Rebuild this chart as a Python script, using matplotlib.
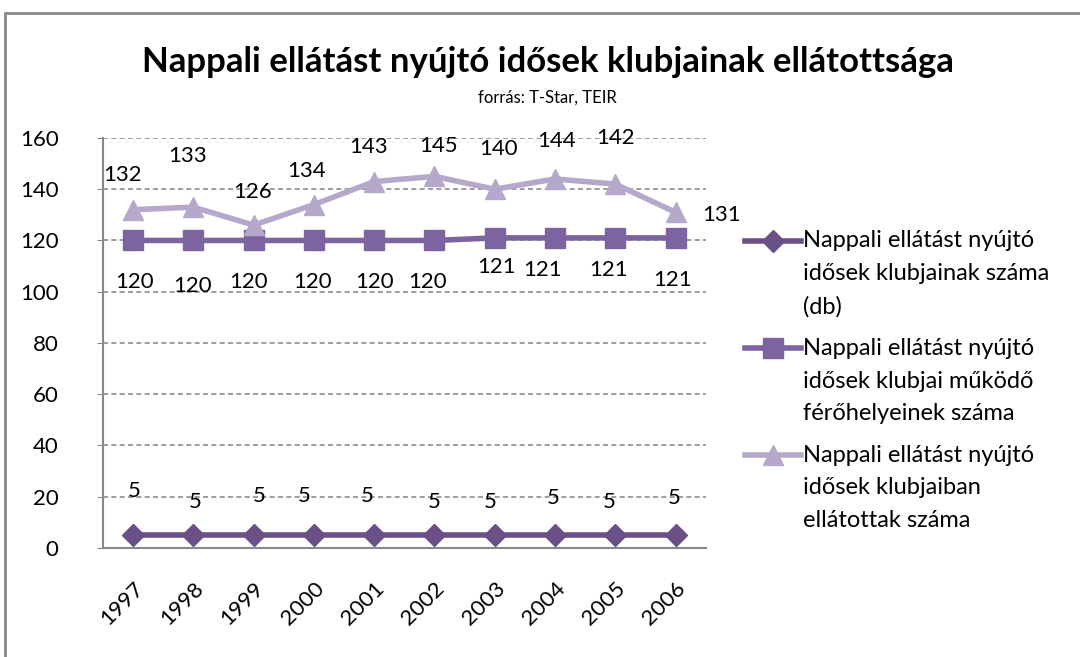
import matplotlib
matplotlib.use("Agg")
import numpy as np
import matplotlib.pyplot as plt
from matplotlib.patches import Rectangle
from matplotlib.legend_handler import HandlerLine2D

plt.rcParams['font.family'] = ['Lato', 'DejaVu Sans']

years = ['1997', '1998', '1999', '2000', '2001', '2002', '2003', '2004', '2005', '2006']
klubok = [5, 5, 5, 5, 5, 5, 5, 5, 5, 5]
ferohely = [120, 120, 120, 120, 120, 120, 121, 121, 121, 121]
ellatottak = [132, 133, 126, 134, 143, 145, 140, 144, 142, 131]

names = ['Nappali ellátást nyújtó\nidősek klubjainak száma\n(db)',
         'Nappali ellátást nyújtó\nidősek klubjai működő\nférőhelyeinek száma',
         'Nappali ellátást nyújtó\nidősek klubjaiban\nellátottak száma']

# label offsets (points) roughly where Excel put them
off_klub = [(1, 32), (1, 24), (4, 28), (-7, 28), (-5, 28), (0, 24), (-3, 24), (-1, 27), (-4, 24), (-1, 27)]
off_fero = [(1, -30), (-1, -33), (-4, -30), (-1, -30), (0, -30), (-5, -30), (1, -21), (-9, -23), (-5, -23), (-2, -30)]
off_ell = [(-8, 25), (-4, 37), (-1, 24), (-5, 24), (-4, 25), (3, 22), (3, 29), (1, 27), (0, 33), (33, -2)]

c_klub = '#6a5087'
c_fero = '#7e63a1'
c_ell = '#b5a8ca'


class FirstLineHandler(HandlerLine2D):
    # put the legend sample next to the first line of a 3-line label
    def create_artists(self, legend, orig_handle, xdescent, ydescent,
                       width, height, fontsize, trans):
        arts = super().create_artists(legend, orig_handle, xdescent, ydescent,
                                      width, height, fontsize, trans)
        for a in arts:
            a.set_ydata(np.asarray(a.get_ydata()) + 24)
        return arts


fig = plt.figure(figsize=(10.8, 6.57), dpi=100)
ax = fig.add_axes([0.0954, 0.166, 0.558, 0.624])

x = range(len(years))
ax.plot(x, klubok, color=c_klub, lw=4, marker='D', ms=11, label=names[0], zorder=3)
ax.plot(x, ferohely, color=c_fero, lw=4, marker='s', ms=15, label=names[1], zorder=3)
ax.plot(x, ellatottak, color=c_ell, lw=4, marker='^', ms=15, label=names[2], zorder=3)

for vals, offs in [(klubok, off_klub), (ferohely, off_fero), (ellatottak, off_ell)]:
    for i, v in enumerate(vals):
        ax.annotate(str(v), (i, v), xytext=offs[i], textcoords='offset points',
                    ha='center', va='center', fontsize=16, color='black', zorder=4)

ax.set_xlim(-0.5, 9.5)
ax.set_ylim(0, 160)
ax.set_yticks(range(0, 161, 20))
ax.set_xticks(list(x))
ax.set_xticklabels(years, rotation=45, ha='right', rotation_mode='anchor', fontsize=16)
ax.tick_params(axis='y', labelsize=16, length=4, color='#888888', pad=28)
ax.tick_params(axis='x', length=0, pad=22)
ax.grid(axis='y', linestyle=(0, (3, 2)), color='#8c8c8c', lw=1.2)
ax.set_axisbelow(True)
for s in ['top', 'right']:
    ax.spines[s].set_visible(False)
for s in ['left', 'bottom']:
    ax.spines[s].set_color('#888888')
    ax.spines[s].set_linewidth(1.5)

leg = fig.legend(loc='upper left', bbox_to_anchor=(0.690, 0.650), frameon=False,
                 fontsize=17, handlelength=2.35, handletextpad=0.1, labelspacing=0.85,
                 borderpad=0, borderaxespad=0,
                 handler_map={matplotlib.lines.Line2D: FirstLineHandler()})
for t in leg.get_texts():
    t.set_linespacing(1.7)

fig.text(0.507, 0.905, 'Nappali ellátást nyújtó idősek klubjainak ellátottsága',
         ha='center', va='center', fontsize=25, fontweight='bold')
fig.text(0.507, 0.851, 'forrás: T-Star, TEIR', ha='center', va='center', fontsize=12)

fig.patches.append(Rectangle((0.005, -0.1), 1.2, 1.08, transform=fig.transFigure,
                             fill=False, edgecolor='#888888', lw=2))

fig.savefig('out.png', dpi=100)
